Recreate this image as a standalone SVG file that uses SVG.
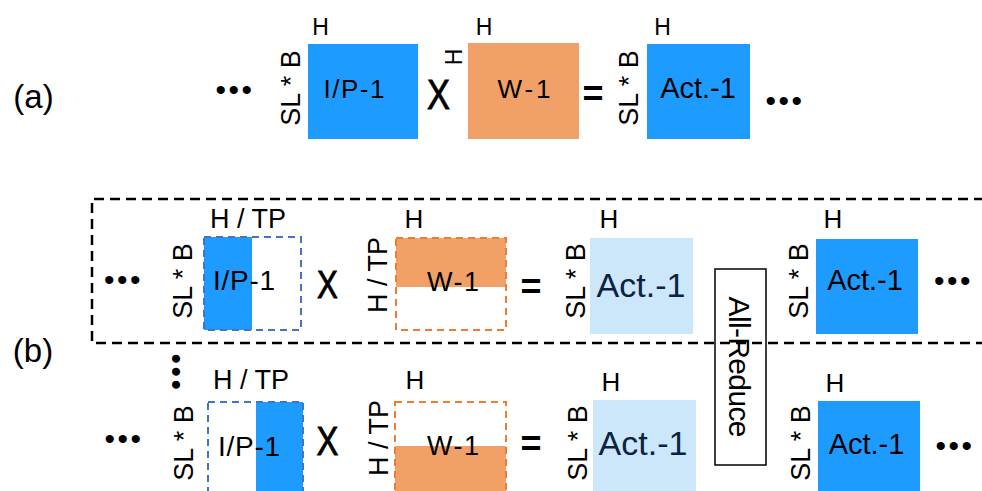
<svg xmlns="http://www.w3.org/2000/svg" width="982" height="491" viewBox="0 0 982 491">
<style>
text{font-family:"Liberation Sans",Arial,sans-serif;fill:#000;text-anchor:middle}
.h{font-size:23px}
.hb{font-size:26px}
.dim{font-size:27px}
.dots{font-size:30px;letter-spacing:2.5px}
.eq{font-size:36px;font-weight:bold}
.times{stroke:#000;stroke-width:0.9px}
.lab{font-size:33px}
.blue{fill:#1e9bff}
.orange{fill:#f1a067}
.light{fill:#cce6fa}
.dblue{fill:none;stroke:#4472c4;stroke-width:2;stroke-dasharray:7 5}
.dorange{fill:none;stroke:#ed7d31;stroke-width:2;stroke-dasharray:7 5}
.frame{fill:none;stroke:#000;stroke-width:2.5;stroke-dasharray:10 6}
.navy{fill:#0b2341}
</style>
<rect width="982" height="491" fill="#fff"/>
<g id="connectors"/>

<!-- (a) -->
<g id="a-label"><text class="lab" x="33.5" y="108">(a)</text></g>
<g id="a-dots-left"><text class="dots" x="235" y="100">•••</text></g>
<g id="a-ip">
  <text class="h" x="320.5" y="35">H</text>
  <text class="dim" transform="translate(300,88) rotate(-90)">SL * B</text>
  <rect class="blue" x="308" y="44" width="110" height="95"/>
  <text x="354" y="98" font-size="26" textLength="61">I/P-1</text>
</g>
<g id="a-times"><text class="times" transform="translate(438.5,109) scale(0.8,1)" font-size="43">X</text></g>
<g id="a-w">
  <text class="h" x="484" y="35">H</text>
  <text class="h" transform="translate(461.7,57) rotate(-90)">H</text>
  <rect class="orange" x="468" y="43" width="111" height="96"/>
  <text x="524" y="98" font-size="26" textLength="53">W-1</text>
</g>
<g id="a-eq"><text class="eq" x="593" y="106">=</text></g>
<g id="a-act">
  <text class="h" x="662.5" y="35">H</text>
  <text class="dim" transform="translate(638,88) rotate(-90)">SL * B</text>
  <rect class="blue" x="647" y="44" width="103" height="95"/>
  <text x="698" y="98" font-size="29">Act.-1</text>
</g>
<g id="a-dots-right"><text class="dots" x="785" y="111">•••</text></g>

<!-- (b) -->
<g id="b-label"><text class="lab" x="33" y="362">(b)</text></g>

<g id="allreduce-box"><rect x="715" y="269" width="51" height="196" fill="#fff" stroke="#000" stroke-width="1.5"/></g>
<g id="tp-frame"><path class="frame" d="M984,199 H92 V343 H984"/></g>
<g id="allreduce"><text transform="translate(728.5,367) rotate(90)" font-size="30" textLength="141">All-Reduce</text></g>

<!-- top row -->
<g id="b1-dots-left"><text class="dots" x="123.5" y="290">•••</text></g>
<g id="b1-ip">
  <text class="dim" transform="translate(192,281) rotate(-90)">SL * B</text>
  <text class="dim" x="248" y="228">H / TP</text>
  <rect class="blue" x="204" y="237" width="48" height="93"/>
  <rect class="dblue" x="204" y="237" width="97" height="93"/>
  <text x="244" y="290" font-size="28" textLength="62">I/P-1</text>
</g>
<g id="b1-times"><text class="times" transform="translate(327.5,298) scale(0.8,1)" font-size="39">X</text></g>
<g id="b1-w">
  <text class="dim" transform="translate(387,275) rotate(-90)">H / TP</text>
  <text class="hb" x="414" y="228">H</text>
  <rect class="orange" x="396" y="238" width="110" height="49"/>
  <rect class="dorange" x="396" y="238" width="110" height="92"/>
  <text x="453" y="291" font-size="27" textLength="52">W-1</text>
</g>
<g id="b1-eq"><text class="eq" x="531" y="299">=</text></g>
<g id="b1-act-partial">
  <text class="dim" transform="translate(585,281) rotate(-90)">SL * B</text>
  <text class="hb" x="609" y="228">H</text>
  <rect class="light" x="590" y="238" width="103" height="96"/>
  <text class="navy" x="641" y="297" font-size="34">Act.-1</text>
</g>
<g id="b1-act">
  <text class="dim" transform="translate(808,281) rotate(-90)">SL * B</text>
  <text class="hb" x="833" y="228">H</text>
  <rect class="blue" x="816" y="239" width="102" height="95"/>
  <text x="865" y="290" font-size="29">Act.-1</text>
</g>
<g id="b1-dots-right"><text class="dots" x="953.5" y="291">•••</text></g>

<!-- bottom row -->
<g id="b-vdots"><text class="dots" transform="translate(165.7,373) rotate(90)">•••</text></g>
<g id="b2-dots-left"><text class="dots" x="124" y="449">•••</text></g>
<g id="b2-ip">
  <text class="dim" transform="translate(193,443) rotate(-90)">SL * B</text>
  <text class="dim" x="251" y="389">H / TP</text>
  <rect class="blue" x="256" y="402" width="47" height="95"/>
  <rect class="dblue" x="208" y="402" width="95" height="95"/>
  <text x="249" y="456" font-size="28" textLength="62">I/P-1</text>
</g>
<g id="b2-times"><text class="times" transform="translate(327.5,455) scale(0.8,1)" font-size="41">X</text></g>
<g id="b2-w">
  <text class="dim" transform="translate(388,438) rotate(-90)">H / TP</text>
  <text class="hb" x="415" y="389">H</text>
  <rect class="orange" x="395" y="446" width="111" height="50"/>
  <rect class="dorange" x="395" y="402" width="111" height="95"/>
  <text x="453" y="455" font-size="27" textLength="52">W-1</text>
</g>
<g id="b2-eq"><text class="eq" x="531" y="456">=</text></g>
<g id="b2-act-partial">
  <text class="dim" transform="translate(587,443) rotate(-90)">SL * B</text>
  <text class="hb" x="611" y="391">H</text>
  <rect class="light" x="593" y="400" width="103" height="96"/>
  <text class="navy" x="643" y="455" font-size="34">Act.-1</text>
</g>
<g id="b2-act">
  <text class="dim" transform="translate(810,443) rotate(-90)">SL * B</text>
  <text class="hb" x="835" y="392">H</text>
  <rect class="blue" x="818" y="401" width="102" height="95"/>
  <text x="866.5" y="454" font-size="29">Act.-1</text>
</g>
<g id="b2-dots-right"><text class="dots" x="955" y="456">•••</text></g>
</svg>
